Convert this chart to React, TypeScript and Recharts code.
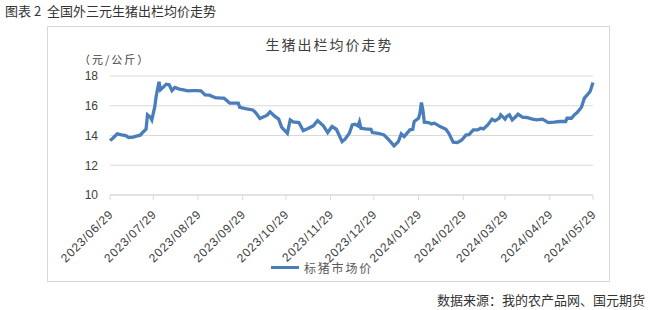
import { CartesianGrid, Legend, Line, LineChart, XAxis, YAxis } from "recharts";

// days counted from 2023/06/29
const days = [
  0, 2, 5, 8, 11, 13, 16, 19, 21, 23,
  25, 26, 28, 29, 31, 32, 34, 35, 37, 39,
  41, 43, 45, 48, 51, 54, 57, 60, 63, 66,
  69, 71, 73, 77, 79, 81, 83, 86, 89, 90,
  94, 99, 101, 104, 107, 109, 111, 114, 117, 119,
  123, 125, 127, 131, 134, 137, 141, 144, 148, 151,
  154, 157, 161, 163, 166, 168, 170, 172, 173, 174,
  177, 181, 182, 186, 190, 193, 197, 200, 202, 204,
  208, 210, 211, 214, 215, 216, 217, 218, 221, 223,
  225, 229, 233, 235, 238, 241, 244, 247, 249, 252,
  255, 257, 259, 262, 265, 267, 270, 271, 274, 275,
  277, 279, 281, 283, 286, 289, 293, 296, 300, 304,
  308, 312, 316, 317, 320, 322, 324, 327, 329, 331,
  333, 335,
];

// 标猪市场价 (元/公斤)
const prices = [
  13.66, 13.82, 14.11, 14.04, 13.99, 13.86, 13.89, 13.97, 14.02, 14.24,
  14.42, 15.39, 15.23, 15.05, 15.9, 16.62, 17.61, 17.07, 17.25, 17.45,
  17.41, 17.02, 17.23, 17.12, 17.07, 17.0, 17.02, 17.02, 17.0, 16.73,
  16.71, 16.62, 16.55, 16.51, 16.51, 16.35, 16.17, 16.17, 16.17, 15.9,
  15.81, 15.72, 15.54, 15.14, 15.27, 15.37, 15.59, 15.32, 15.1, 14.56,
  14.15, 15.05, 14.92, 14.87, 14.33, 14.46, 14.65, 15.0, 14.65, 14.2,
  14.6, 14.42, 13.59, 13.75, 14.15, 14.71, 14.76, 14.65, 14.92, 14.49,
  14.44, 14.42, 14.2, 14.15, 14.04, 13.75, 13.3, 13.59, 14.11, 13.93,
  14.38, 14.42, 14.94, 15.16, 15.5, 16.22, 15.72, 14.89, 14.87, 14.78,
  14.83, 14.6, 14.42, 14.15, 13.55, 13.52, 13.7, 14.04, 14.06, 14.38,
  14.38, 14.49, 14.44, 14.71, 15.1, 14.98, 15.16, 15.39, 15.1, 15.27,
  15.39, 15.05, 15.23, 15.43, 15.23, 15.21, 15.1, 15.05, 15.1, 14.87,
  14.9, 14.94, 14.94, 15.16, 15.16, 15.39, 15.54, 15.9, 16.51, 16.73,
  16.96, 17.56,
];

const tickDays = [0, 30, 61, 92, 122, 153, 183, 214, 245, 274, 305, 335];
const tickLabels = [
  "2023/06/29", "2023/07/29", "2023/08/29", "2023/09/29", "2023/10/29", "2023/11/29",
  "2023/12/29", "2024/01/29", "2024/02/29", "2024/03/29", "2024/04/29", "2024/05/29",
];
const yTicks = [10, 12, 14, 16, 18];

const data = days.map((d, i) => ({ day: d, price: prices[i] }));

const cjk = '"Noto Sans CJK SC", sans-serif';
const latin = '"Liberation Sans", Arial, sans-serif';

function DateTick({ x, y, payload }: any) {
  const label = tickLabels[tickDays.indexOf(payload.value)];
  return (
    <text
      x={x + 4}
      y={y + 13}
      transform={`rotate(-45, ${x + 4}, ${y + 13})`}
      textAnchor="end"
      fontSize={12}
      letterSpacing={0.8}
      fontFamily={latin}
      fill="#404040"
    >
      {label}
    </text>
  );
}

function LegendBox() {
  return (
    <div style={{ display: "flex", alignItems: "center", height: 16 }}>
      <div style={{ width: 28, height: 3, background: "#4a7ebb", marginRight: 5 }} />
      <span style={{ fontFamily: cjk, fontSize: 12, letterSpacing: 1.8, color: "#595959" }}>
        标猪市场价
      </span>
    </div>
  );
}

export default function App() {
  return (
    <div style={{ position: "absolute", left: 0, top: 0, width: 651, height: 310, background: "#fff" }}>
      <div
        style={{
          position: "absolute", left: 5, top: 1, fontFamily: cjk, fontSize: 13,
          color: "#333", whiteSpace: "nowrap",
        }}
      >
        图表 2&nbsp;&nbsp;全国外三元生猪出栏均价走势
      </div>
      <div
        style={{
          position: "absolute", left: 47, top: 26, width: 561, height: 254,
          border: "1px solid #d9d9d9",
        }}
      />
      <div
        style={{
          position: "absolute", left: 0, top: 34, width: 651, textAlign: "center",
          fontFamily: cjk, fontSize: 14, letterSpacing: 2, color: "#404040", paddingLeft: 8,
          boxSizing: "border-box",
        }}
      >
        生猪出栏均价走势
      </div>
      <div
        style={{
          position: "absolute", left: 79, top: 51, fontFamily: cjk, fontSize: 11,
          letterSpacing: 2, color: "#404040", whiteSpace: "nowrap",
        }}
      >
        （元/公斤）
      </div>
      <div style={{ position: "absolute", left: 0, top: 0 }}>
        <LineChart
          width={651}
          height={310}
          data={data}
          margin={{ top: 76, right: 58, bottom: 39, left: 50 }}
        >
          <CartesianGrid vertical={false} stroke="#d9d9d9" />
          <XAxis
            dataKey="day"
            type="number"
            domain={[0, 335]}
            ticks={tickDays}
            interval={0}
            height={60}
            stroke="#d9d9d9"
            tickSize={5}
            tick={<DateTick />}
          />
          <YAxis
            domain={[10, 18]}
            ticks={yTicks}
            width={60}
            axisLine={false}
            tickLine={false}
            tickMargin={6}
            tick={{ fontSize: 12, fill: "#404040", fontFamily: latin }}
          />
          <Legend
            content={<LegendBox />}
            wrapperStyle={{ left: 271, top: 259, width: 120, height: 16 }}
          />
          <Line
            type="linear"
            dataKey="price"
            name="标猪市场价"
            stroke="#4a7ebb"
            strokeWidth={3.3}
            dot={false}
            isAnimationActive={false}
          />
        </LineChart>
      </div>
      <div
        style={{
          position: "absolute", right: 6, top: 290, fontFamily: cjk, fontSize: 13,
          color: "#333", whiteSpace: "nowrap",
        }}
      >
        数据来源：我的农产品网、国元期货
      </div>
    </div>
  );
}
